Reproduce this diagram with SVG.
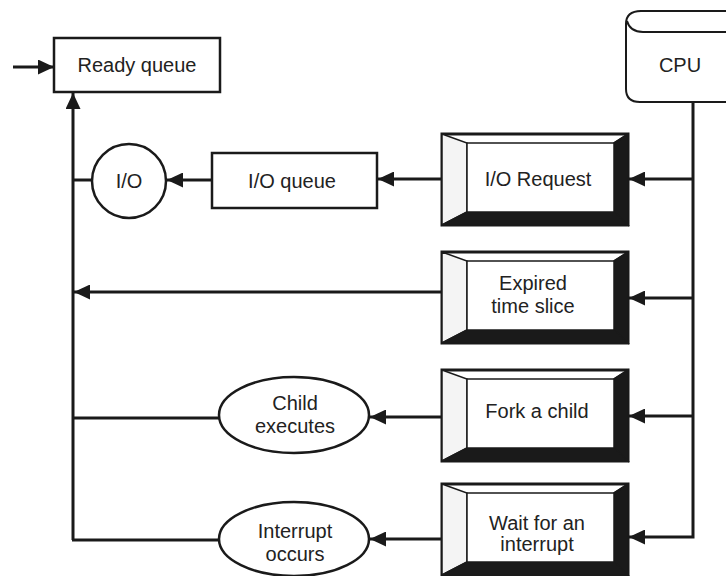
<svg xmlns="http://www.w3.org/2000/svg" width="726" height="576" viewBox="0 0 726 576">
<defs>
<marker id="ah" markerUnits="userSpaceOnUse" markerWidth="17" markerHeight="15" refX="16" refY="7.5" orient="auto">
<path d="M0,0 L16,7.5 L0,15 Z" fill="#1a1a1a"/>
</marker>
<g id="bevel">
<rect x="0" y="0" width="186" height="91" fill="#fff" stroke="#1a1a1a" stroke-width="3"/>
<path d="M0,0 L25,9 L25,78 L0,91 Z" fill="#f4f4f4" stroke="#1a1a1a" stroke-width="1.5"/>
<path d="M186,0 L186,91 L172,78 L172,9 Z" fill="#1a1a1a" stroke="#1a1a1a" stroke-width="1.5"/>
<path d="M0,91 L186,91 L172,78 L25,78 Z" fill="#1a1a1a" stroke="#1a1a1a" stroke-width="1.5"/>
<path d="M186,0 L172,9" stroke="#1a1a1a" stroke-width="1.5"/>
<rect x="25" y="9" width="147" height="69" fill="#fff" stroke="#1a1a1a" stroke-width="1.5"/>
</g>
</defs>
<style>
text{font-family:"Liberation Sans",Arial,sans-serif;font-size:20px;fill:#222;text-anchor:middle}
.ln{fill:none;stroke:#1a1a1a;stroke-width:3}
.shp{fill:#fff;stroke:#1a1a1a;stroke-width:2.5}
</style>
<rect width="726" height="576" fill="#fff"/>
<g id="connectors">
<line class="ln" x1="13" y1="67" x2="54" y2="67" marker-end="url(#ah)"/>
<line class="ln" x1="73" y1="540" x2="73" y2="93" marker-end="url(#ah)"/>
<line class="ln" x1="92" y1="180" x2="73" y2="180"/>
<line class="ln" x1="219" y1="418" x2="73" y2="418"/>
<line class="ln" x1="220" y1="540" x2="72" y2="540"/>
<line class="ln" x1="442" y1="292" x2="74" y2="292" marker-end="url(#ah)"/>
<line class="ln" x1="442" y1="179" x2="378" y2="179" marker-end="url(#ah)"/>
<line class="ln" x1="212" y1="180" x2="167" y2="180" marker-end="url(#ah)"/>
<line class="ln" x1="442" y1="417" x2="370" y2="417" marker-end="url(#ah)"/>
<line class="ln" x1="442" y1="539" x2="370" y2="539" marker-end="url(#ah)"/>
<path class="ln" d="M693,102 L693,537 L629,537" marker-end="url(#ah)"/>
<line class="ln" x1="693" y1="179" x2="629" y2="179" marker-end="url(#ah)"/>
<line class="ln" x1="693" y1="298" x2="629" y2="298" marker-end="url(#ah)"/>
<line class="ln" x1="693" y1="416" x2="629" y2="416" marker-end="url(#ah)"/>
</g>
<g id="ready-queue">
<rect class="shp" x="54" y="38" width="166" height="54"/>
<text x="137" y="72">Ready queue</text>
</g>
<g id="cpu">
<path d="M735,11 L641,11 Q626,11 626,24 L626,89 Q626,102 640,102 L735,102 Z" fill="#fff" stroke="#1a1a1a" stroke-width="2"/>
<path d="M627,21 Q630,32 643,32 L735,32" fill="none" stroke="#1a1a1a" stroke-width="2"/>
<text x="680" y="72">CPU</text>
</g>
<g id="io-queue">
<rect class="shp" x="212" y="153" width="165" height="55"/>
<text x="292" y="188">I/O queue</text>
</g>
<g id="io">
<circle class="shp" cx="129" cy="181" r="37"/>
<text x="129" y="188">I/O</text>
</g>
<g id="io-request">
<use href="#bevel" x="442" y="134"/>
<text x="538" y="186">I/O Request</text>
</g>
<g id="expired">
<use href="#bevel" x="442" y="252"/>
<text x="533" y="290">Expired</text>
<text x="533" y="313">time slice</text>
</g>
<g id="fork">
<use href="#bevel" x="442" y="370"/>
<text x="537" y="418">Fork a child</text>
</g>
<g id="wait">
<use href="#bevel" x="442" y="484"/>
<text x="537" y="530">Wait for an</text>
<text x="537" y="551">interrupt</text>
</g>
<g id="child-executes">
<ellipse class="shp" cx="294" cy="415" rx="75" ry="38"/>
<text x="295" y="410">Child</text>
<text x="295" y="433">executes</text>
</g>
<g id="interrupt-occurs">
<ellipse class="shp" cx="294" cy="539" rx="75" ry="37"/>
<text x="295" y="538">Interrupt</text>
<text x="295" y="561">occurs</text>
</g>
</svg>
